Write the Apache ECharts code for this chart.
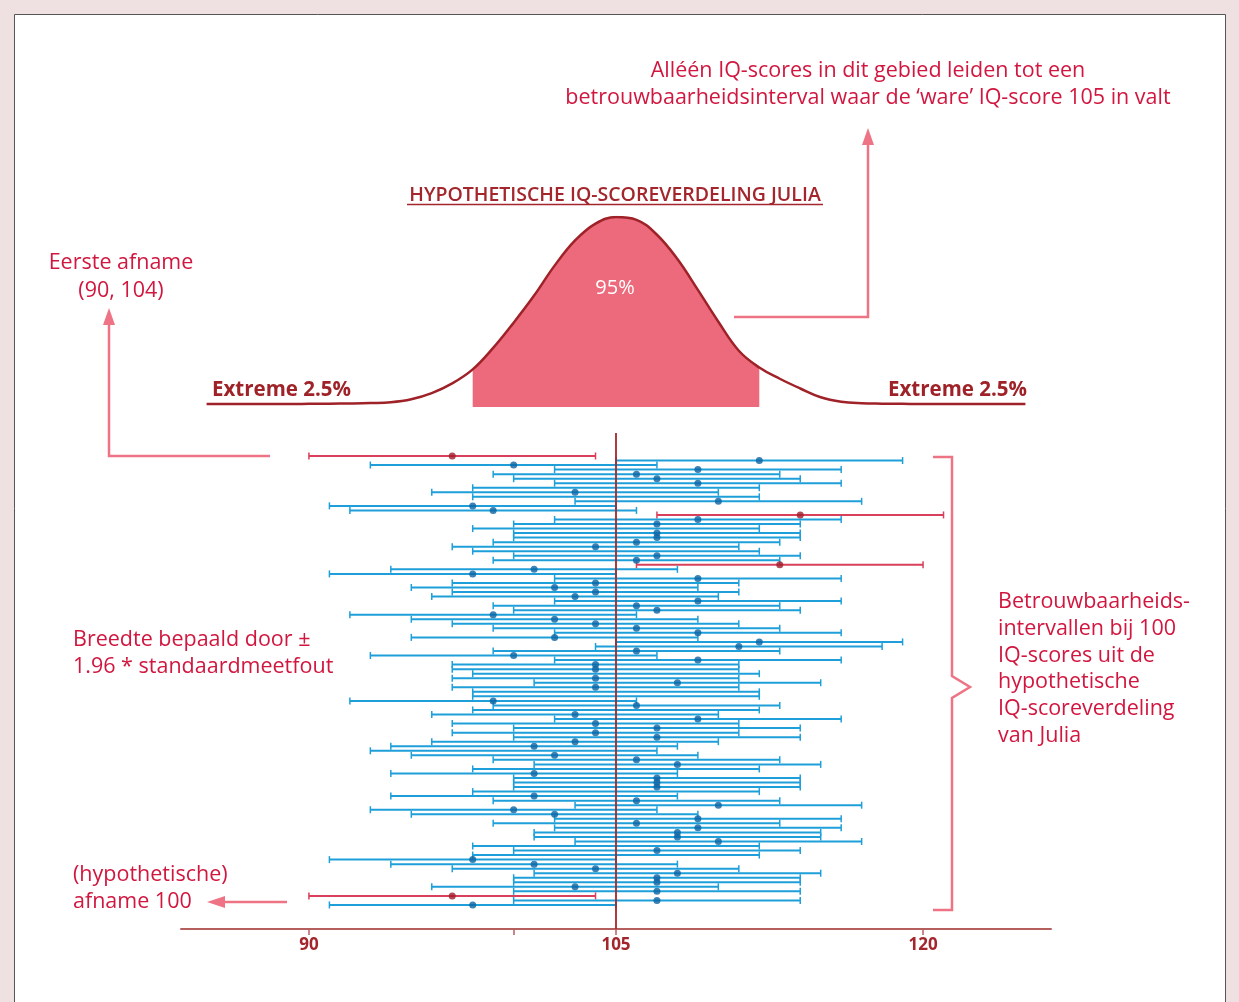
<!DOCTYPE html>
<html>
<head>
<meta charset="utf-8">
<script src="https://cdn.jsdelivr.net/npm/echarts@6/dist/echarts.min.js"></script>
<style>
  html, body { margin: 0; padding: 0; background: #efe0e1; }
  #chart { width: 1239px; height: 1002px; }
</style>
</head>
<body>
<div id="chart"></div>
<script>
// Ware IQ-score van Julia en halve breedte van elk interval (1.96 * standaardmeetfout)
const TRUE_SCORE = 105;
const HALF_WIDTH = 7;

// Gemeten IQ-scores van 100 hypothetische afnames (middelpunt van elk interval)
const centers = [
  97, 112, 100, 109, 106, 107, 109, 105, 103, 105,
  110, 98, 99, 114, 109, 107, 105, 107, 107, 106,
  104, 105, 107, 106, 113, 101, 98, 109, 104, 102,
  104, 103, 109, 106, 107, 99, 102, 104, 106, 109,
  102, 112, 111, 106, 100, 109, 104, 104, 105, 104,
  108, 104, 105, 105, 99, 106, 105, 103, 109, 104,
  107, 104, 107, 103, 101, 100, 102, 106, 108, 105,
  101, 107, 107, 107, 105, 101, 106, 110, 100, 102,
  109, 106, 109, 108, 108, 110, 105, 107, 105, 98,
  101, 104, 108, 107, 107, 103, 107, 97, 107, 98
];

// Hypothetische scoreverdeling: relatieve hoogte per IQ-score
const curveX = [
  85, 86, 87, 88, 89, 90, 91, 92, 93, 94,
  95, 96, 97, 98, 99, 100, 101, 102, 103, 104,
  105, 106, 107, 108, 109, 110, 111, 112, 113, 114,
  115, 116, 117, 118, 119, 120, 121, 122, 123, 124, 125
];
const curveH = [
  0, 0, 0, 0, 0, 0.001, 0.002, 0.003, 0.005, 0.009,
  0.025, 0.058, 0.11, 0.185, 0.3, 0.435, 0.58, 0.74, 0.875, 0.965,
  1, 0.985, 0.905, 0.775, 0.61, 0.44, 0.285, 0.195, 0.135, 0.083,
  0.036, 0.012, 0.004, 0.002, 0.001, 0, 0, 0, 0, 0, 0
];

// As-indeling
const tickValues = [90, 100, 105, 120];
const labelValues = [90, 105, 120];

const BLUE = '#1f9fda';
const BLUE_DOT = '#0b63a3';
const RED = '#d9405b';
const RED_DOT = '#a01c2a';
const DARK_RED = '#9e2228';
const CRIMSON = '#d1173f';
const PINK = '#ee7384';
const FONT = '"Open Sans", "Noto Sans", sans-serif';

const intervals = centers.map((c, i) => {
  const lo = c - HALF_WIDTH, hi = c + HALF_WIDTH;
  const miss = (TRUE_SCORE < lo || TRUE_SCORE > hi) ? 1 : 0;
  return [lo, hi, i, miss];
});
// Scores die precies op de ware score vallen krijgen geen punt
const points = [];
centers.forEach((c, i) => {
  if (c !== TRUE_SCORE && i !== 65) points.push([c, i, intervals[i][3]]);
});

const curveData = curveX.map((x, i) => [x, curveH[i]]);
const shadeData = curveData.filter(d => d[0] >= TRUE_SCORE - HALF_WIDTH && d[0] <= TRUE_SCORE + HALF_WIDTH);

const X_MIN = 83.75, X_MAX = 126.25;
const Y_MIN = -5.07, Y_MAX = 104.3;

function txt(text, x, y, opts) {
  return {
    type: 'text', z: 20,
    style: Object.assign({
      text: text, x: x, y: y + 1.5, fill: CRIMSON,
      font: '400 21.5px ' + FONT, textAlign: 'left', textVerticalAlign: 'middle'
    }, opts || {})
  };
}
const arrowStyle = { stroke: PINK, lineWidth: 2.5, fill: null };

const chart = echarts.init(document.getElementById('chart'), null, { renderer: 'canvas' });
chart.setOption({
  backgroundColor: '#efe0e1',
  animation: false,
  grid: [
    { left: 181, right: 188, top: 433, bottom: 73 },
    { left: 181, right: 188, top: 217, bottom: 595 }
  ],
  xAxis: [
    {
      gridIndex: 0, type: 'value', min: X_MIN, max: X_MAX, position: 'bottom',
      splitLine: { show: false },
      axisLine: { show: true, onZero: false, lineStyle: { color: '#b5605f', width: 2 } },
      axisTick: { show: true, customValues: tickValues, length: 6, lineStyle: { color: '#b5605f', width: 1.5 } },
      axisLabel: {
        customValues: labelValues, color: '#a3262d', margin: 8,
        fontFamily: FONT, fontSize: 17, fontWeight: 700
      }
    },
    {
      gridIndex: 1, type: 'value', min: X_MIN, max: X_MAX, show: false,
      splitLine: { show: false }
    }
  ],
  yAxis: [
    { gridIndex: 0, type: 'value', inverse: true, min: Y_MIN, max: Y_MAX, show: false, splitLine: { show: false } },
    { gridIndex: 1, type: 'value', min: -0.016, max: 1, show: false, splitLine: { show: false } }
  ],
  graphic: [
    { type: 'rect', z: -10, shape: { x: 14.5, y: 14.5, width: 1211, height: 1000 },
      style: { fill: '#ffffff', stroke: '#555555', lineWidth: 1 } },

    txt('Alléén IQ-scores in dit gebied leiden tot een', 868, 69, { textAlign: 'center' }),
    txt('betrouwbaarheidsinterval waar de \u2018ware\u2019 IQ-score 105 in valt', 868, 96, { textAlign: 'center' }),

    txt('HYPOTHETISCHE IQ-SCOREVERDELING JULIA', 615, 194,
      { textAlign: 'center', fill: '#a3262d', font: '600 19.5px ' + FONT }),
    { type: 'line', z: 20, shape: { x1: 407, y1: 204.5, x2: 823, y2: 204.5 }, style: { stroke: '#a3262d', lineWidth: 1.5 } },

    txt('95%', 615, 287, { textAlign: 'center', fill: '#ffffff', font: '400 20px ' + FONT }),
    txt('Extreme 2.5%', 212, 389, { fill: DARK_RED, font: '700 20.5px ' + FONT }),
    txt('Extreme 2.5%', 1027, 389, { textAlign: 'right', fill: DARK_RED, font: '700 20.5px ' + FONT }),

    txt('Eerste afname', 121, 261, { textAlign: 'center' }),
    txt('(90, 104)', 121, 289, { textAlign: 'center' }),

    txt('Breedte bepaald door \u00b1', 73, 638),
    txt('1.96 * standaardmeetfout', 73, 665),

    txt('(hypothetische)', 73, 873),
    txt('afname 100', 73, 900),

    txt('Betrouwbaarheids-', 998, 600),
    txt('intervallen bij 100', 998, 627),
    txt('IQ-scores uit de', 998, 654),
    txt('hypothetische', 998, 680),
    txt('IQ-scoreverdeling', 998, 707),
    txt('van Julia', 998, 734),

    // pijl naar de tekst bovenaan
    { type: 'polyline', z: 15, shape: { points: [[734, 317], [868, 317], [868, 142]] }, style: arrowStyle },
    { type: 'polygon', z: 15, shape: { points: [[868, 128], [862, 145], [874, 145]] }, style: { fill: PINK } },
    // pijl naar 'Eerste afname'
    { type: 'polyline', z: 15, shape: { points: [[270, 456], [109, 456], [109, 322]] }, style: arrowStyle },
    { type: 'polygon', z: 15, shape: { points: [[109, 308], [103, 325], [115, 325]] }, style: { fill: PINK } },
    // pijl naar 'afname 100'
    { type: 'line', z: 15, shape: { x1: 287, y1: 902, x2: 222, y2: 902 }, style: { stroke: PINK, lineWidth: 2.5 } },
    { type: 'polygon', z: 15, shape: { points: [[207, 902], [225, 896], [225, 908]] }, style: { fill: PINK } },
    // accolade rond de intervallen
    { type: 'polyline', z: 15,
      shape: { points: [[933, 457], [952, 457], [952, 676], [970, 687], [952, 698], [952, 910], [933, 910]] },
      style: arrowStyle }
  ],
  series: [
    {
      name: 'verdeling-vlak', type: 'line', xAxisIndex: 1, yAxisIndex: 1,
      data: shadeData, smooth: 0.4, symbol: 'none',
      lineStyle: { width: 0, opacity: 0 },
      areaStyle: { color: '#ec6a7c', opacity: 1, origin: 'start' },
      z: 2
    },
    {
      name: 'verdeling', type: 'line', xAxisIndex: 1, yAxisIndex: 1,
      data: curveData, smooth: 0.4, symbol: 'none',
      lineStyle: { color: DARK_RED, width: 2.5 },
      z: 3
    },
    {
      name: 'intervallen', type: 'custom', xAxisIndex: 0, yAxisIndex: 0,
      data: intervals,
      encode: { x: [0, 1], y: 2 },
      renderItem: function (params, api) {
        const a = api.coord([api.value(0), api.value(2)]);
        const b = api.coord([api.value(1), api.value(2)]);
        const col = api.value(3) ? RED : BLUE;
        return {
          type: 'group',
          children: [
            { type: 'line', shape: { x1: a[0], y1: a[1], x2: b[0], y2: b[1] }, style: { stroke: col, lineWidth: 2 } },
            { type: 'line', shape: { x1: a[0], y1: a[1] - 3.5, x2: a[0], y2: a[1] + 3.5 }, style: { stroke: col, lineWidth: 1.5 } },
            { type: 'line', shape: { x1: b[0], y1: b[1] - 3.5, x2: b[0], y2: b[1] + 3.5 }, style: { stroke: col, lineWidth: 1.5 } }
          ]
        };
      },
      z: 4
    },
    {
      name: 'scores', type: 'scatter', xAxisIndex: 0, yAxisIndex: 0,
      data: points, symbolSize: 7,
      itemStyle: { color: p => p.data[2] ? RED_DOT : BLUE_DOT },
      z: 5
    },
    {
      name: 'ware score', type: 'line', xAxisIndex: 0, yAxisIndex: 0,
      data: [[TRUE_SCORE, Y_MIN], [TRUE_SCORE, Y_MAX]], symbol: 'none',
      lineStyle: { color: '#a3262a', width: 1.8 },
      z: 6
    }
  ]
});
</script>
</body>
</html>
